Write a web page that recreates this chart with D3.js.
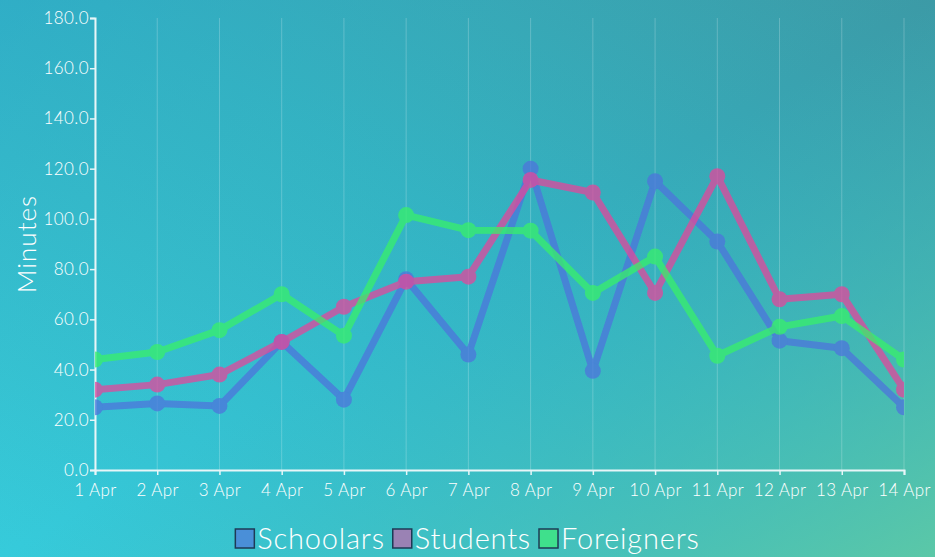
<!DOCTYPE html>
<html>
<head>
<meta charset="utf-8">
<script src="https://cdn.jsdelivr.net/npm/d3@7"></script>
<style>
  html, body { margin: 0; padding: 0; }
  svg { display: block; font-family: "Lato", "Open Sans", sans-serif; font-weight: 300; }
</style>
</head>
<body>
<svg id="chart"></svg>
<script>
var width = 935,
    height = 557,
    margin = {top: 18, right: 31, bottom: 87, left: 95};

// data
var days = ["1 Apr", "2 Apr", "3 Apr", "4 Apr", "5 Apr", "6 Apr", "7 Apr",
            "8 Apr", "9 Apr", "10 Apr", "11 Apr", "12 Apr", "13 Apr", "14 Apr"];
var schoolars  = [25, 26.5, 25.5, 51, 28, 76, 46, 120, 39.5, 115, 91, 51.5, 48.5, 25];
var students   = [32, 34, 38, 51, 65, 75, 77, 115.5, 110.5, 70.5, 117, 68, 70, 32];
var foreigners = [44, 47, 55.7, 70, 53.5, 101.5, 95.5, 95.3, 70.5, 85, 45.5, 57, 61.3, 44];
var seriesNames = ["Schoolars", "Students", "Foreigners"];
var lineColors = ["#4d74dc", "#e2479c", "#39f06a"];
var legendColors = ["#4a8fd8", "#9a82b4", "#3fe08c"];
var yTicks = [0, 20, 40, 60, 80, 100, 120, 140, 160, 180];

var allSeries = [schoolars, students, foreigners];

var svg = d3.select("#chart").attr("width", width).attr("height", height);
var defs = svg.append("defs");

// background: cyan/teal gradient
var g1 = defs.append("linearGradient").attr("id", "bg1")
    .attr("x1", "0").attr("y1", "1").attr("x2", "1").attr("y2", "0");
g1.append("stop").attr("offset", "0%").attr("stop-color", "#36cbdb");
g1.append("stop").attr("offset", "55%").attr("stop-color", "#33b3c3");
g1.append("stop").attr("offset", "100%").attr("stop-color", "#3c9aa6");
var g2 = defs.append("linearGradient").attr("id", "bg2")
    .attr("x1", "0").attr("y1", "0").attr("x2", "1").attr("y2", "1");
g2.append("stop").attr("offset", "0%").attr("stop-color", "#2aa0c8").attr("stop-opacity", 0.35);
g2.append("stop").attr("offset", "50%").attr("stop-color", "#40b8b8").attr("stop-opacity", 0);
g2.append("stop").attr("offset", "100%").attr("stop-color", "#62cba2").attr("stop-opacity", 0.85);

svg.append("rect").attr("width", width).attr("height", height).attr("fill", "url(#bg1)");
svg.append("rect").attr("width", width).attr("height", height).attr("fill", "url(#bg2)");

// soft edges on the lines
defs.append("filter").attr("id", "soft")
  .append("feGaussianBlur").attr("stdDeviation", 0.7);

var x = d3.scalePoint().domain(days).range([margin.left, width - margin.right]);
var y = d3.scaleLinear().domain([0, 180]).range([height - margin.bottom, margin.top]);

defs.append("clipPath").attr("id", "plotclip")
  .append("rect")
    .attr("x", margin.left).attr("y", 0)
    .attr("width", width - margin.right - margin.left)
    .attr("height", height - margin.bottom);

// vertical grid lines
svg.append("g").attr("class", "grid")
  .selectAll("line")
  .data(days)
  .enter().append("line")
    .attr("x1", function(d) { return x(d); })
    .attr("x2", function(d) { return x(d); })
    .attr("y1", y(180))
    .attr("y2", y(0))
    .attr("stroke", "#ffffff")
    .attr("stroke-opacity", 0.22)
    .attr("stroke-width", 1);

// axes
var yAxis = svg.append("g")
    .attr("transform", "translate(" + margin.left + ",0)")
    .call(d3.axisLeft(y).tickValues(yTicks).tickFormat(d3.format(".1f")).tickSize(5).tickPadding(1));
var xAxis = svg.append("g")
    .attr("transform", "translate(0," + y(0) + ")")
    .call(d3.axisBottom(x).tickSize(5).tickPadding(9));

[xAxis, yAxis].forEach(function(a) {
  a.select(".domain").attr("stroke", "#e8f6f8").attr("stroke-width", 2);
  a.selectAll(".tick line").attr("stroke", "#e8f6f8").attr("stroke-width", 1.5);
  a.selectAll(".tick text").attr("fill", "#ffffff")
    .style("font-family", "Lato, sans-serif")
    .style("font-weight", 300)
    .style("font-size", "17px").style("letter-spacing", "0.4px");
});

svg.append("text")
    .attr("transform", "translate(36," + ((y(0) + y(180)) / 2) + ") rotate(-90)")
    .attr("text-anchor", "middle")
    .attr("fill", "#ffffff")
    .style("font-size", "26px")
    .style("letter-spacing", "1px")
    .text("Minutes");

// lines and points
var line = d3.line()
    .x(function(d, i) { return x(days[i]); })
    .y(function(d) { return y(d); });

var plot = svg.append("g").attr("clip-path", "url(#plotclip)");

allSeries.forEach(function(s, k) {
  var grp = plot.append("g").attr("opacity", 0.75).attr("filter", "url(#soft)");
  grp.append("path")
      .datum(s)
      .attr("d", line)
      .attr("fill", "none")
      .attr("stroke", lineColors[k])
      .attr("stroke-width", 7)
      .attr("stroke-linejoin", "round");
  grp.selectAll("circle")
      .data(s)
      .enter().append("circle")
      .attr("cx", function(d, i) { return x(days[i]); })
      .attr("cy", function(d) { return y(d); })
      .attr("r", 8)
      .attr("fill", lineColors[k]);
});

// legend
var legend = svg.append("g").attr("transform", "translate(0,540)");
var items = legend.selectAll("g")
    .data(seriesNames)
    .enter().append("g");
items.append("rect")
    .attr("y", -11)
    .attr("width", 19).attr("height", 19)
    .attr("fill", function(d, i) { return legendColors[i]; })
    .attr("stroke", "#1e3a55")
    .attr("stroke-width", 1.5);
items.append("text")
    .attr("x", 22)
    .attr("y", 9)
    .attr("fill", "#ffffff")
    .style("font-size", "29px")
    .style("letter-spacing", "0.8px")
    .text(function(d) { return d; });

// lay the legend out centred
var offs = [], pos = 0;
items.each(function() {
  offs.push(pos);
  pos += this.getBBox().width + 8;
});
var total = pos - 8, start = (width - total) / 2;
items.attr("transform", function(d, i) { return "translate(" + (start + offs[i]) + ",0)"; });
</script>
</body>
</html>
